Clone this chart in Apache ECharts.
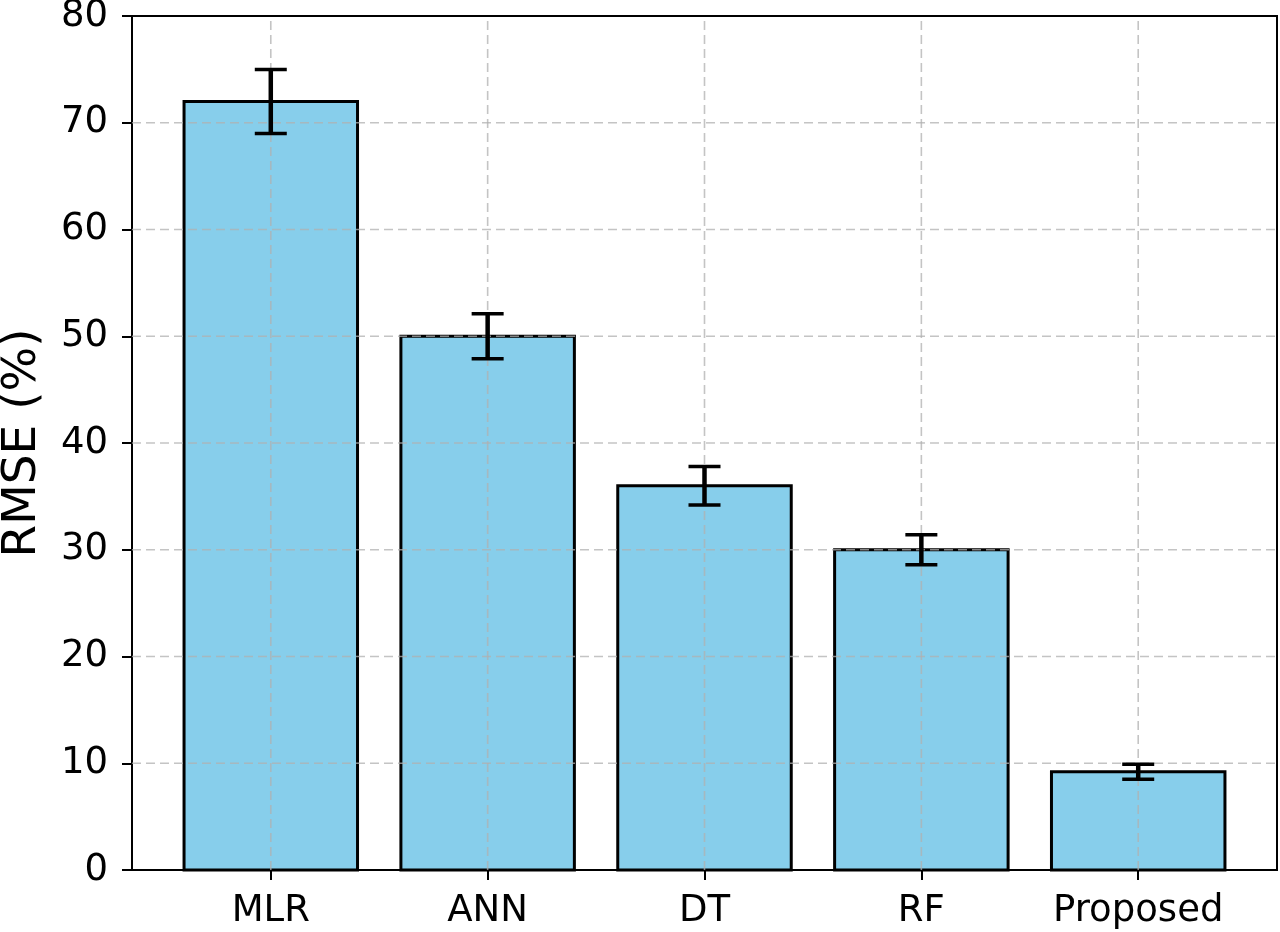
<!DOCTYPE html>
<html>
<head>
<meta charset="utf-8">
<script src="https://cdn.jsdelivr.net/npm/echarts@6/dist/echarts.min.js"></script>
<style>
html,body{margin:0;padding:0;background:#fff;}
#chart{width:1280px;height:932px;}
</style>
</head>
<body>
<div id="chart"></div>
<script>
const categories = ["MLR", "ANN", "DT", "RF", "Proposed"];
const rmseValues = [72, 50, 36, 30, 9.2];
const rmseErrors = [3, 2.1, 1.8, 1.4, 0.7];
const yTicks = [0, 10, 20, 30, 40, 50, 60, 70, 80];

const FONT = "DejaVu Sans";
const chart = echarts.init(document.getElementById('chart'), null, {renderer: 'canvas'});

const barData = rmseValues.map((v, i) => [i, v]);
const errData = rmseValues.map((v, i) => [i, v - rmseErrors[i], v + rmseErrors[i]]);
const catIdx = categories.map((c, i) => i);
const yMin = yTicks[0], yMax = yTicks[yTicks.length - 1];
const xMin = -0.64, xMax = 4.64;

const gridStroke = {stroke: 'rgba(176,176,176,0.75)', lineWidth: 1.6, lineDash: [9, 5]};

const option = {
  backgroundColor: '#fff',
  animation: false,
  grid: {left: 132, right: 3, top: 16, bottom: 62, outerBoundsMode: 'none', containLabel: false,
    show: true, borderColor: '#000', borderWidth: 2, backgroundColor: 'transparent'},
  xAxis: {
    type: 'value', min: xMin, max: xMax,
    axisLine: {show: true, onZero: false, lineStyle: {color: '#000', width: 2}},
    axisTick: {show: true, customValues: catIdx, length: 10, lineStyle: {color: '#000', width: 2}},
    axisLabel: {show: true, customValues: catIdx, formatter: v => categories[Math.round(v)] || '',
      color: '#000', fontFamily: FONT, fontSize: 37, margin: 23},
    splitLine: {show: false}
  },
  yAxis: {
    type: 'value', min: yMin, max: yMax, interval: 10,
    name: 'RMSE (%)', nameLocation: 'middle', nameRotate: 90, nameGap: 86,
    nameTextStyle: {color: '#000', fontFamily: FONT, fontSize: 47},
    axisLine: {show: true, onZero: false, lineStyle: {color: '#000', width: 2}},
    axisTick: {show: true, length: 10, lineStyle: {color: '#000', width: 2}},
    axisLabel: {color: '#000', fontFamily: FONT, fontSize: 37, margin: 24},
    splitLine: {show: false}
  },
  series: [
    {
      type: 'custom', z: 2,
      data: barData,
      renderItem: function (params, api) {
        const i = api.value(0), v = api.value(1);
        const p1 = api.coord([i - 0.4, v]);
        const p2 = api.coord([i + 0.4, 0]);
        return {
          type: 'rect',
          shape: {x: p1[0], y: p1[1], width: p2[0] - p1[0], height: p2[1] - p1[1]},
          style: {fill: '#87CEEB', stroke: '#000', lineWidth: 3}
        };
      }
    },
    {
      type: 'custom', z: 4, silent: true,
      data: yTicks.slice(1, -1).map(t => [t]),
      dimensions: ['y'],
      encode: {y: 0},
      renderItem: function (params, api) {
        const t = api.value(0);
        const a = api.coord([xMin, t]);
        const b = api.coord([xMax, t]);
        return {type: 'line', shape: {x1: a[0], y1: a[1], x2: b[0], y2: b[1]}, style: gridStroke};
      }
    },
    {
      type: 'custom', z: 4, silent: true,
      data: catIdx.map(i => [i]),
      dimensions: ['x'],
      encode: {x: 0},
      renderItem: function (params, api) {
        const i = api.value(0);
        const a = api.coord([i, yMin]);
        const b = api.coord([i, yMax]);
        return {type: 'line', shape: {x1: a[0], y1: a[1], x2: b[0], y2: b[1]}, style: gridStroke};
      }
    },
    {
      type: 'custom', z: 6,
      data: errData,
      renderItem: function (params, api) {
        const i = api.value(0);
        const lo = api.coord([i, api.value(1)]);
        const hi = api.coord([i, api.value(2)]);
        const cap = 16;
        return {
          type: 'group',
          children: [
            {type: 'line', shape: {x1: lo[0], y1: lo[1], x2: hi[0], y2: hi[1]}, style: {stroke: '#000', lineWidth: 4.5}},
            {type: 'line', shape: {x1: lo[0] - cap, y1: lo[1], x2: lo[0] + cap, y2: lo[1]}, style: {stroke: '#000', lineWidth: 3.5}},
            {type: 'line', shape: {x1: hi[0] - cap, y1: hi[1], x2: hi[0] + cap, y2: hi[1]}, style: {stroke: '#000', lineWidth: 3.5}}
          ]
        };
      }
    }
  ]
};
chart.setOption(option);
</script>
</body>
</html>
